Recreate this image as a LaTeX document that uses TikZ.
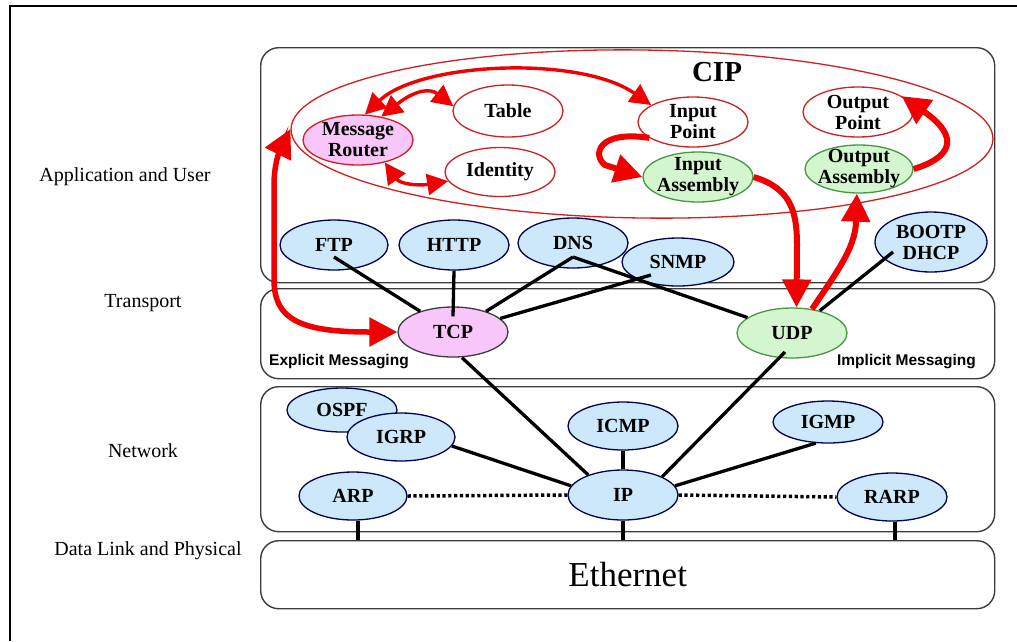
\documentclass[tikz,border=0pt]{standalone}
\usepackage{fontspec}
\setmainfont{Liberation Serif}
\newfontfamily\arialfont{Liberation Sans}
\usetikzlibrary{shapes.geometric,arrows.meta}
\definecolor{nodeblue}{RGB}{204,232,250}
\definecolor{nodepink}{RGB}{248,198,248}
\definecolor{nodegreen}{RGB}{212,246,206}
\definecolor{greenedge}{RGB}{70,150,70}
\definecolor{cipred}{RGB}{210,30,30}
\definecolor{arrowred}{RGB}{240,0,0}
\definecolor{boxgray}{RGB}{60,60,60}
\tikzset{
  lbl/.style={font=\fontsize{20}{24}\selectfont},
  layerbox/.style={draw=boxgray, line width=1.4pt, rounded corners=18pt, fill=white, inner sep=0pt, anchor=north west},
  ell/.style={ellipse, inner sep=0pt, line width=1.3pt},
  txt/.style={label={[font=\fontsize{20}{21}\selectfont\bfseries, align=center, inner sep=0pt]center:{#1}}},
  bluenode/.style={ell, draw=black!70!blue, fill=nodeblue},
  pinknode/.style={ell, draw=#1, fill=nodepink},
  greennode/.style={ell, draw=greenedge, fill=nodegreen},
  rednode/.style={ell, draw=cipred, fill=white},
  conn/.style={draw=black, line width=3.3pt},
  dotconn/.style={draw=black, line width=3.5pt, dash pattern=on 3.2pt off 2.6pt},
  bigarrow/.style={draw=arrowred, line width=6pt, -{Triangle[length=28pt,width=28pt]}},
  bigdouble/.style={draw=arrowred, line width=5.5pt, {Triangle[length=28pt,width=28pt]}-{Triangle[length=28pt,width=28pt]}},
  thindouble/.style={draw=arrowred, line width=3.4pt, {Triangle[length=21pt,width=21pt]}-{Triangle[length=21pt,width=21pt]}},
  msgtxt/.style={font=\arialfont\fontsize{15.5}{18}\selectfont\bfseries, inner sep=0pt}
}
\begin{document}
\begin{tikzpicture}[x=1pt,y=-1pt]
\useasboundingbox (0,0) rectangle (1017,641);
\fill[white] (0,0) rectangle (1017,641);
% outer frame
\draw[black, line width=1.2pt] (10,641) -- (10,6) -- (1017,6);

% layer labels
\node[lbl] (l1) at (125,177) {Application and User};
\node[lbl] (l2) at (143,303) {Transport};
\node[lbl] (l3) at (143,451) {Network};
\node[lbl] (l4) at (148,551) {Data Link and Physical};

% layer boxes
\node[layerbox, minimum width=734pt, minimum height=235pt] (app) at (260,47) {};
\node[layerbox, minimum width=734pt, minimum height=90pt] (trans) at (260,288) {};
\node[layerbox, minimum width=734pt, minimum height=145pt] (net) at (260,386) {};
\node[layerbox, minimum width=734pt, minimum height=68pt, font=\fontsize{35}{40}\selectfont] (eth) at (260,540) {Ethernet};

% CIP region
\node[ell, draw=cipred, line width=1.3pt, minimum width=702pt, minimum height=168pt, rotate=-0.8] (cip) at (642,134) {};
\node[font=\fontsize{29}{32}\selectfont\bfseries] (ciplbl) at (717,72) {CIP};

\node[pinknode=cipred, minimum width=110pt, minimum height=50pt, txt={Message\\Router}] (mr) at (358,140) {};
\node[rednode, minimum width=110pt, minimum height=52pt, txt={Table}] (table) at (508,111) {};
\node[rednode, minimum width=110pt, minimum height=49pt, txt={Identity}] (ident) at (500,172) {};
\node[rednode, minimum width=110pt, minimum height=50pt, txt={Input\\Point}] (inpt) at (693,122) {};
\node[greennode, minimum width=110pt, minimum height=50pt, txt={Input\\Assembly}] (inasm) at (698,177) {};
\node[rednode, minimum width=110pt, minimum height=50pt, txt={Output\\Point}] (outpt) at (858,112) {};
\node[greennode, minimum width=108pt, minimum height=48pt, txt={Output\\Assembly}] (outasm) at (859,169) {};

% application protocols
\node[bluenode, minimum width=108pt, minimum height=50pt, txt={FTP}] (ftp) at (334,245) {};
\node[bluenode, minimum width=110pt, minimum height=50pt, txt={HTTP}] (http) at (454,245) {};
\node[bluenode, minimum width=110pt, minimum height=50pt, txt={DNS}] (dns) at (573,243) {};
\node[bluenode, minimum width=112pt, minimum height=48pt, txt={SNMP}] (snmp) at (678,262) {};
\node[bluenode, minimum width=112pt, minimum height=60pt, txt={BOOTP\\DHCP}] (bootp) at (931,242) {};

% transport
\node[pinknode=boxgray, minimum width=110pt, minimum height=50pt, txt={TCP}] (tcp) at (453,332) {};
\node[greennode, minimum width=110pt, minimum height=50pt, txt={UDP}] (udp) at (792,333) {};
\node[msgtxt, anchor=west] (expl) at (269,362) {Explicit Messaging};
\node[msgtxt, anchor=east] (impl) at (976,362) {Implicit Messaging};

% network
\node[bluenode, minimum width=110pt, minimum height=44pt, txt={OSPF}] (ospf) at (342,410) {};
\node[bluenode, minimum width=108pt, minimum height=48pt, txt={IGRP}] (igrp) at (401,437) {};
\node[bluenode, minimum width=108pt, minimum height=48pt, txt={ARP}] (arp) at (353,496) {};
\node[bluenode, minimum width=110pt, minimum height=50pt, txt={IP}] (ip) at (623,495) {};
\node[bluenode, minimum width=110pt, minimum height=48pt, txt={ICMP}] (icmp) at (623,426) {};
\node[bluenode, minimum width=110pt, minimum height=42pt, txt={IGMP}] (igmp) at (828,422) {};
\node[bluenode, minimum width=110pt, minimum height=48pt, txt={RARP}] (rarp) at (892,497) {};

% black connectors
\draw[conn] ([yshift=-12pt]ftp.center) -- (tcp);
\draw[conn] (http.south) -- ([yshift=-10pt]tcp.north);
\draw[conn] ([yshift=-14pt]dns.center) -- (tcp);
\draw[conn] ([yshift=-14pt]dns.center) -- (udp);
\draw[conn] ([xshift=-27pt,yshift=-13pt]snmp.center) -- (tcp);
\draw[conn] ([xshift=-38pt,yshift=-10pt]bootp.center) -- (udp);
\draw[conn] ([xshift=9pt]tcp.south) -- (ip.150);
\draw[conn] ([xshift=-7pt,yshift=-19pt]udp.center) -- (ip.25);
\draw[conn] (igrp.-10) -- (ip.170);
\draw[conn] (icmp.south) -- (ip.north);
\draw[conn] (igmp.240) -- (ip.10);
\draw[dotconn] (arp.east) -- (ip.west);
\draw[dotconn] (ip.east) -- (rarp.west);
\draw[conn] ([xshift=5pt]arp.south) -- ([xshift=5pt]arp.south |- eth.north);
\draw[conn] (ip.south) -- (ip.south |- eth.north);
\draw[conn] ([xshift=3pt]rarp.south) -- ([xshift=3pt]rarp.south |- eth.north);

% red arrows
\draw[bigdouble] (tcp.west) .. controls (305,332) and (274,322) .. (274,280)
  -- (274,185) .. controls (274,160) and (282,146) .. (cip.west);
\draw[thindouble] (mr.75) .. controls (420,62) and (580,55) .. (inpt.158);
\draw[thindouble] (mr.45) .. controls (415,90) and (430,88) .. (table.175);
\draw[thindouble] (mr.-40) .. controls (400,184) and (418,186) .. (ident.190);
\draw[bigarrow] (inpt.200) .. controls (598,130) and (592,155) .. (605,165) -- (inasm.west);
\draw[bigarrow] (inasm.east) .. controls (790,188) and (797,210) .. (797,245) -- (udp.80);
\draw[bigarrow] (udp.50) .. controls (838,270) and (858,245) .. (856,215) -- (outasm.265);
\draw[bigarrow] (outasm.east) .. controls (950,158) and (962,138) .. (outpt.20);
\end{tikzpicture}
\end{document}
